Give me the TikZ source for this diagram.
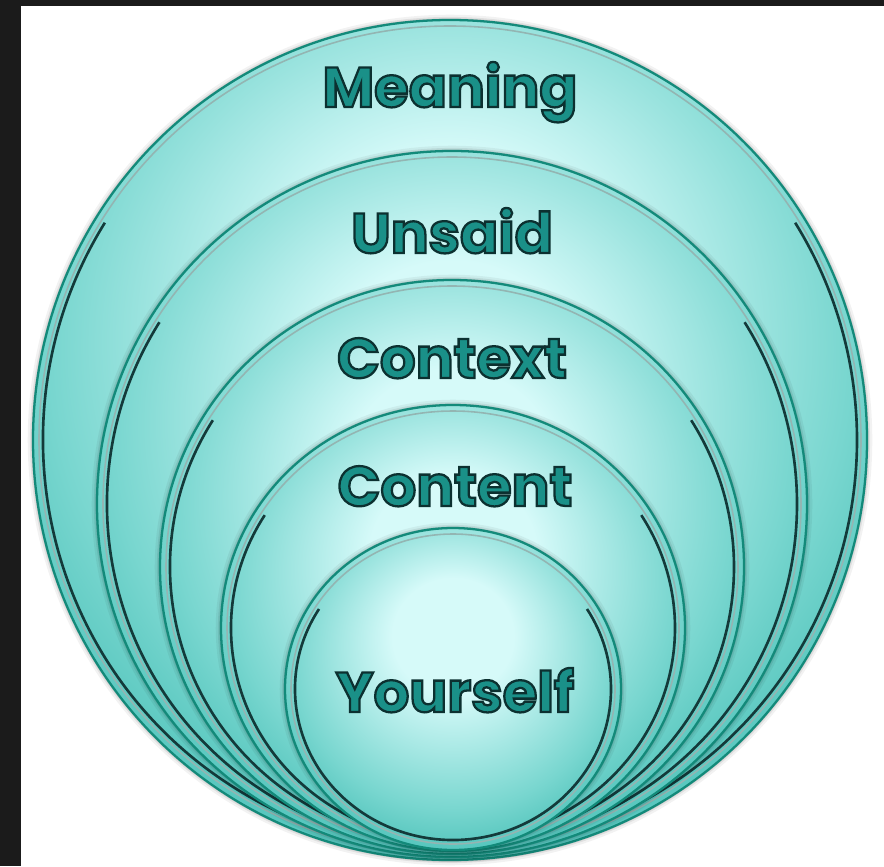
\documentclass[tikz,border=0pt]{standalone}
\usepackage{fontspec}
\newfontfamily\ringfont{Poppins}
\definecolor{framegray}{HTML}{1B1B1B}
\definecolor{ringlight}{HTML}{D6FAF9}
\definecolor{ringmid}{HTML}{78D6CF}
\definecolor{ringdark}{HTML}{35B6AC}
\definecolor{ringedge}{HTML}{138A7A}
\definecolor{ringline}{HTML}{143A3A}
\definecolor{ringgray}{HTML}{93B5B2}
\definecolor{txfill}{HTML}{1A9088}
\pgfdeclareradialshading{ringshade}{\pgfpoint{0bp}{10bp}}{color(0bp)=(ringlight);
  color(9bp)=(ringlight); color(24bp)=(ringmid); color(34bp)=(ringdark); color(50bp)=(ringdark)}
% text filled teal and stroked dark
\newcommand{\ringtext}[1]{{\special{pdf:code 2 Tr 1.3 w 0.047 0.188 0.188 RG}#1\special{pdf:code 0 Tr 0.4 w}}}
\begin{document}
\begin{tikzpicture}[x=0.02cm, y=0.02cm,
      ring/.style = {
        shade, shading=ringshade, draw=ringedge, line width=1.3pt,
        preaction={draw=black, opacity=0.05, line width=6pt},
        preaction={draw=black, opacity=0.07, line width=3.5pt},
        preaction={draw=black, opacity=0.10, line width=1.8pt} },
      ring-bevel/.style = { draw=ringgray, line width=0.9pt },
      ring-rim/.style = { draw=ringline, line width=1.5pt },
      label-text/.style = {
        anchor=base, inner sep=0pt, text=txfill,
        font=\ringfont\bfseries\fontsize{32}{36}\selectfont }]
    \useasboundingbox (0,0) rectangle (884,866);
    \fill[framegray] (0,0) rectangle (884,866);
    \fill[white] (21,0) rectangle (884,860);
    % rings, largest first
    \path[ring] (450,426) ellipse [x radius=417, y radius=420];
    \draw[ring-bevel] (450,426) ellipse [x radius=411, y radius=414];
    \draw[ring-rim] (450,426) ++(148:407 and 410) arc[start angle=148, end angle=392, x radius=407, y radius=410];
    \path[ring] (452,362) ellipse [x radius=355, y radius=353];
    \draw[ring-bevel] (452,362) ellipse [x radius=349, y radius=347];
    \draw[ring-rim] (452,362) ++(148:345 and 343) arc[start angle=148, end angle=392, x radius=345, y radius=343];
    \path[ring] (452,299) ellipse [x radius=292, y radius=287];
    \draw[ring-bevel] (452,299) ellipse [x radius=286, y radius=281];
    \draw[ring-rim] (452,299) ++(148:282 and 277) arc[start angle=148, end angle=392, x radius=282, y radius=277];
    \path[ring] (453,238) ellipse [x radius=232, y radius=223];
    \draw[ring-bevel] (453,238) ellipse [x radius=226, y radius=217];
    \draw[ring-rim] (453,238) ++(148:222 and 213) arc[start angle=148, end angle=392, x radius=222, y radius=213];
    \path[ring] (453,177) ellipse [x radius=168, y radius=161];
    \draw[ring-bevel] (453,177) ellipse [x radius=162, y radius=155];
    \draw[ring-rim] (453,177) ++(148:158 and 151) arc[start angle=148, end angle=392, x radius=158, y radius=151];
    % labels
    \node [label-text] (meaning) at (450, 759) {\ringtext{Meaning}};
    \node [label-text] (unsaid) at (452, 613) {\ringtext{Unsaid}};
    \node [label-text] (context) at (452, 488) {\ringtext{Context}};
    \node [label-text] (content) at (455, 360) {\ringtext{Content}};
    \node [label-text] (yourself) at (455, 154) {\ringtext{Yourself}};
  \end{tikzpicture}
\end{document}
